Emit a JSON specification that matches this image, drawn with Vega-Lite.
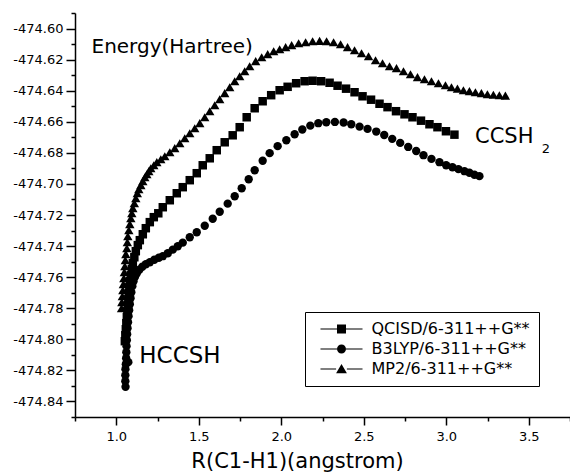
{
  "$schema": "https://vega.github.io/schema/vega-lite/v6.json",
  "width": 495,
  "height": 404,
  "autosize": {"type": "none"},
  "padding": {"left": 75, "top": 13, "right": 0, "bottom": 55},
  "background": "white",
  "config": {"view": {"stroke": null}, "font": "DejaVu Sans"},
  "encoding": {
    "x": {
      "field": "x", "type": "quantitative",
      "scale": {"domain": [0.75, 3.75], "nice": false, "zero": false},
      "axis": {
        "title": "R(C1-H1)(angstrom)",
        "values": [0.75, 1, 1.25, 1.5, 1.75, 2, 2.25, 2.5, 2.75, 3, 3.25, 3.5, 3.75],
        "labelExpr": "round(datum.value*4) % 2 == 0 ? format(datum.value, '.1f') : ''",
        "tickSize": {"condition": {"test": "round(datum.value*4) % 2 == 0", "value": 8}, "value": 4},
        "grid": false,
        "domainColor": "black", "domainWidth": 1.5,
        "tickColor": "black", "tickWidth": 1.5,
        "labelColor": "black", "labelFont": "DejaVu Sans", "labelFontSize": 13,
        "labelPadding": 5, "labelOverlap": false, "labelFlush": false,
        "titleFont": "DejaVu Sans", "titleFontSize": 21, "titleFontWeight": "normal", "titleColor": "black",
        "titleX": 222, "titleY": 50, "titleAlign": "center", "titleBaseline": "alphabetic"
      }
    },
    "y": {
      "field": "y", "type": "quantitative",
      "scale": {"domain": [-474.85, -474.59], "nice": false, "zero": false},
      "axis": {
        "title": "Energy(Hartree)",
        "values": [-474.85, -474.84, -474.83, -474.82, -474.81, -474.8, -474.79, -474.78, -474.77, -474.76, -474.75, -474.74, -474.73, -474.72, -474.71, -474.7, -474.69, -474.68, -474.67, -474.66, -474.65, -474.64, -474.63, -474.62, -474.61, -474.6, -474.59],
        "labelExpr": "round(datum.value*100) % 2 == 0 ? '-' + format(abs(datum.value), '.2f') : ''",
        "tickSize": {"condition": {"test": "round(datum.value*100) % 2 == 0", "value": 9}, "value": 4},
        "grid": false,
        "domainColor": "black", "domainWidth": 1.5,
        "tickColor": "black", "tickWidth": 1.5,
        "labelColor": "black", "labelFont": "DejaVu Sans", "labelFontSize": 13,
        "labelPadding": 3, "labelOverlap": false, "labelFlush": false,
        "titleFont": "DejaVu Sans", "titleFontSize": 20, "titleFontWeight": "normal", "titleColor": "black",
        "titleAngle": 0, "titleX": 16, "titleY": 39, "titleAlign": "left", "titleBaseline": "alphabetic"
      }
    }
  },
  "layer": [
    {
      "data": {"values": [
        {"s": "MP2/6-311++G**", "x": 1.0321, "y": -474.7800},
        {"s": "MP2/6-311++G**", "x": 1.0339, "y": -474.7761},
        {"s": "MP2/6-311++G**", "x": 1.0369, "y": -474.7723},
        {"s": "MP2/6-311++G**", "x": 1.0400, "y": -474.7684},
        {"s": "MP2/6-311++G**", "x": 1.0430, "y": -474.7645},
        {"s": "MP2/6-311++G**", "x": 1.0460, "y": -474.7607},
        {"s": "MP2/6-311++G**", "x": 1.0490, "y": -474.7568},
        {"s": "MP2/6-311++G**", "x": 1.0521, "y": -474.7530},
        {"s": "MP2/6-311++G**", "x": 1.0551, "y": -474.7491},
        {"s": "MP2/6-311++G**", "x": 1.0581, "y": -474.7452},
        {"s": "MP2/6-311++G**", "x": 1.0642, "y": -474.7414},
        {"s": "MP2/6-311++G**", "x": 1.0672, "y": -474.7375},
        {"s": "MP2/6-311++G**", "x": 1.0702, "y": -474.7337},
        {"s": "MP2/6-311++G**", "x": 1.0763, "y": -474.7298},
        {"s": "MP2/6-311++G**", "x": 1.0823, "y": -474.7259},
        {"s": "MP2/6-311++G**", "x": 1.0884, "y": -474.7221},
        {"s": "MP2/6-311++G**", "x": 1.0944, "y": -474.7189},
        {"s": "MP2/6-311++G**", "x": 1.1005, "y": -474.7156},
        {"s": "MP2/6-311++G**", "x": 1.1096, "y": -474.7124},
        {"s": "MP2/6-311++G**", "x": 1.1186, "y": -474.7092},
        {"s": "MP2/6-311++G**", "x": 1.1277, "y": -474.7060},
        {"s": "MP2/6-311++G**", "x": 1.1368, "y": -474.7034},
        {"s": "MP2/6-311++G**", "x": 1.1489, "y": -474.7008},
        {"s": "MP2/6-311++G**", "x": 1.1610, "y": -474.6983},
        {"s": "MP2/6-311++G**", "x": 1.1731, "y": -474.6957},
        {"s": "MP2/6-311++G**", "x": 1.1852, "y": -474.6938},
        {"s": "MP2/6-311++G**", "x": 1.1973, "y": -474.6918},
        {"s": "MP2/6-311++G**", "x": 1.2094, "y": -474.6899},
        {"s": "MP2/6-311++G**", "x": 1.2276, "y": -474.6880},
        {"s": "MP2/6-311++G**", "x": 1.2458, "y": -474.6860},
        {"s": "MP2/6-311++G**", "x": 1.2700, "y": -474.6841},
        {"s": "MP2/6-311++G**", "x": 1.2942, "y": -474.6822},
        {"s": "MP2/6-311++G**", "x": 1.3245, "y": -474.6796},
        {"s": "MP2/6-311++G**", "x": 1.3547, "y": -474.6770},
        {"s": "MP2/6-311++G**", "x": 1.3850, "y": -474.6738},
        {"s": "MP2/6-311++G**", "x": 1.4153, "y": -474.6706},
        {"s": "MP2/6-311++G**", "x": 1.4455, "y": -474.6674},
        {"s": "MP2/6-311++G**", "x": 1.4758, "y": -474.6642},
        {"s": "MP2/6-311++G**", "x": 1.5061, "y": -474.6609},
        {"s": "MP2/6-311++G**", "x": 1.5363, "y": -474.6571},
        {"s": "MP2/6-311++G**", "x": 1.5666, "y": -474.6532},
        {"s": "MP2/6-311++G**", "x": 1.5969, "y": -474.6494},
        {"s": "MP2/6-311++G**", "x": 1.6271, "y": -474.6455},
        {"s": "MP2/6-311++G**", "x": 1.6574, "y": -474.6416},
        {"s": "MP2/6-311++G**", "x": 1.6877, "y": -474.6378},
        {"s": "MP2/6-311++G**", "x": 1.7179, "y": -474.6339},
        {"s": "MP2/6-311++G**", "x": 1.7482, "y": -474.6307},
        {"s": "MP2/6-311++G**", "x": 1.7785, "y": -474.6275},
        {"s": "MP2/6-311++G**", "x": 1.8087, "y": -474.6243},
        {"s": "MP2/6-311++G**", "x": 1.8450, "y": -474.6210},
        {"s": "MP2/6-311++G**", "x": 1.8814, "y": -474.6185},
        {"s": "MP2/6-311++G**", "x": 1.9177, "y": -474.6165},
        {"s": "MP2/6-311++G**", "x": 1.9540, "y": -474.6146},
        {"s": "MP2/6-311++G**", "x": 1.9903, "y": -474.6133},
        {"s": "MP2/6-311++G**", "x": 2.0266, "y": -474.6120},
        {"s": "MP2/6-311++G**", "x": 2.0630, "y": -474.6107},
        {"s": "MP2/6-311++G**", "x": 2.1053, "y": -474.6095},
        {"s": "MP2/6-311++G**", "x": 2.1477, "y": -474.6088},
        {"s": "MP2/6-311++G**", "x": 2.1901, "y": -474.6082},
        {"s": "MP2/6-311++G**", "x": 2.2324, "y": -474.6079},
        {"s": "MP2/6-311++G**", "x": 2.2748, "y": -474.6082},
        {"s": "MP2/6-311++G**", "x": 2.3172, "y": -474.6088},
        {"s": "MP2/6-311++G**", "x": 2.3596, "y": -474.6101},
        {"s": "MP2/6-311++G**", "x": 2.4019, "y": -474.6120},
        {"s": "MP2/6-311++G**", "x": 2.4443, "y": -474.6140},
        {"s": "MP2/6-311++G**", "x": 2.4867, "y": -474.6159},
        {"s": "MP2/6-311++G**", "x": 2.5291, "y": -474.6178},
        {"s": "MP2/6-311++G**", "x": 2.5714, "y": -474.6204},
        {"s": "MP2/6-311++G**", "x": 2.6138, "y": -474.6223},
        {"s": "MP2/6-311++G**", "x": 2.6562, "y": -474.6243},
        {"s": "MP2/6-311++G**", "x": 2.6985, "y": -474.6255},
        {"s": "MP2/6-311++G**", "x": 2.7409, "y": -474.6275},
        {"s": "MP2/6-311++G**", "x": 2.7833, "y": -474.6294},
        {"s": "MP2/6-311++G**", "x": 2.8257, "y": -474.6313},
        {"s": "MP2/6-311++G**", "x": 2.8680, "y": -474.6326},
        {"s": "MP2/6-311++G**", "x": 2.9104, "y": -474.6339},
        {"s": "MP2/6-311++G**", "x": 2.9528, "y": -474.6352},
        {"s": "MP2/6-311++G**", "x": 2.9952, "y": -474.6365},
        {"s": "MP2/6-311++G**", "x": 3.0315, "y": -474.6378},
        {"s": "MP2/6-311++G**", "x": 3.0678, "y": -474.6387},
        {"s": "MP2/6-311++G**", "x": 3.1041, "y": -474.6397},
        {"s": "MP2/6-311++G**", "x": 3.1404, "y": -474.6403},
        {"s": "MP2/6-311++G**", "x": 3.1768, "y": -474.6410},
        {"s": "MP2/6-311++G**", "x": 3.2131, "y": -474.6416},
        {"s": "MP2/6-311++G**", "x": 3.2494, "y": -474.6423},
        {"s": "MP2/6-311++G**", "x": 3.2857, "y": -474.6426},
        {"s": "MP2/6-311++G**", "x": 3.3220, "y": -474.6429},
        {"s": "MP2/6-311++G**", "x": 3.3584, "y": -474.6432},
        {"s": "QCISD/6-311++G**", "x": 1.0521, "y": -474.8012},
        {"s": "QCISD/6-311++G**", "x": 1.0551, "y": -474.7974},
        {"s": "QCISD/6-311++G**", "x": 1.0581, "y": -474.7935},
        {"s": "QCISD/6-311++G**", "x": 1.0611, "y": -474.7896},
        {"s": "QCISD/6-311++G**", "x": 1.0642, "y": -474.7858},
        {"s": "QCISD/6-311++G**", "x": 1.0672, "y": -474.7819},
        {"s": "QCISD/6-311++G**", "x": 1.0702, "y": -474.7781},
        {"s": "QCISD/6-311++G**", "x": 1.0732, "y": -474.7742},
        {"s": "QCISD/6-311++G**", "x": 1.0763, "y": -474.7703},
        {"s": "QCISD/6-311++G**", "x": 1.0793, "y": -474.7665},
        {"s": "QCISD/6-311++G**", "x": 1.0823, "y": -474.7626},
        {"s": "QCISD/6-311++G**", "x": 1.0884, "y": -474.7588},
        {"s": "QCISD/6-311++G**", "x": 1.0944, "y": -474.7549},
        {"s": "QCISD/6-311++G**", "x": 1.1005, "y": -474.7510},
        {"s": "QCISD/6-311++G**", "x": 1.1096, "y": -474.7472},
        {"s": "QCISD/6-311++G**", "x": 1.1186, "y": -474.7433},
        {"s": "QCISD/6-311++G**", "x": 1.1308, "y": -474.7394},
        {"s": "QCISD/6-311++G**", "x": 1.1429, "y": -474.7362},
        {"s": "QCISD/6-311++G**", "x": 1.1610, "y": -474.7324},
        {"s": "QCISD/6-311++G**", "x": 1.1792, "y": -474.7285},
        {"s": "QCISD/6-311++G**", "x": 1.2034, "y": -474.7246},
        {"s": "QCISD/6-311++G**", "x": 1.2276, "y": -474.7214},
        {"s": "QCISD/6-311++G**", "x": 1.2548, "y": -474.7189},
        {"s": "QCISD/6-311++G**", "x": 1.2821, "y": -474.7150},
        {"s": "QCISD/6-311++G**", "x": 1.3245, "y": -474.7105},
        {"s": "QCISD/6-311++G**", "x": 1.3668, "y": -474.7060},
        {"s": "QCISD/6-311++G**", "x": 1.4031, "y": -474.7021},
        {"s": "QCISD/6-311++G**", "x": 1.4455, "y": -474.6976},
        {"s": "QCISD/6-311++G**", "x": 1.4879, "y": -474.6931},
        {"s": "QCISD/6-311++G**", "x": 1.5242, "y": -474.6880},
        {"s": "QCISD/6-311++G**", "x": 1.5666, "y": -474.6835},
        {"s": "QCISD/6-311++G**", "x": 1.6090, "y": -474.6783},
        {"s": "QCISD/6-311++G**", "x": 1.6574, "y": -474.6732},
        {"s": "QCISD/6-311++G**", "x": 1.7058, "y": -474.6687},
        {"s": "QCISD/6-311++G**", "x": 1.7482, "y": -474.6635},
        {"s": "QCISD/6-311++G**", "x": 1.7906, "y": -474.6571},
        {"s": "QCISD/6-311++G**", "x": 1.8390, "y": -474.6513},
        {"s": "QCISD/6-311++G**", "x": 1.8874, "y": -474.6468},
        {"s": "QCISD/6-311++G**", "x": 1.9389, "y": -474.6429},
        {"s": "QCISD/6-311++G**", "x": 1.9903, "y": -474.6397},
        {"s": "QCISD/6-311++G**", "x": 2.0387, "y": -474.6375},
        {"s": "QCISD/6-311++G**", "x": 2.0902, "y": -474.6352},
        {"s": "QCISD/6-311++G**", "x": 2.1416, "y": -474.6339},
        {"s": "QCISD/6-311++G**", "x": 2.1901, "y": -474.6336},
        {"s": "QCISD/6-311++G**", "x": 2.2415, "y": -474.6339},
        {"s": "QCISD/6-311++G**", "x": 2.2930, "y": -474.6349},
        {"s": "QCISD/6-311++G**", "x": 2.3414, "y": -474.6368},
        {"s": "QCISD/6-311++G**", "x": 2.3928, "y": -474.6387},
        {"s": "QCISD/6-311++G**", "x": 2.4443, "y": -474.6410},
        {"s": "QCISD/6-311++G**", "x": 2.4927, "y": -474.6436},
        {"s": "QCISD/6-311++G**", "x": 2.5442, "y": -474.6458},
        {"s": "QCISD/6-311++G**", "x": 2.5956, "y": -474.6484},
        {"s": "QCISD/6-311++G**", "x": 2.6441, "y": -474.6506},
        {"s": "QCISD/6-311++G**", "x": 2.6955, "y": -474.6532},
        {"s": "QCISD/6-311++G**", "x": 2.7470, "y": -474.6552},
        {"s": "QCISD/6-311++G**", "x": 2.7954, "y": -474.6571},
        {"s": "QCISD/6-311++G**", "x": 2.8469, "y": -474.6593},
        {"s": "QCISD/6-311++G**", "x": 2.8983, "y": -474.6616},
        {"s": "QCISD/6-311++G**", "x": 2.9467, "y": -474.6635},
        {"s": "QCISD/6-311++G**", "x": 2.9982, "y": -474.6661},
        {"s": "QCISD/6-311++G**", "x": 3.0496, "y": -474.6683},
        {"s": "B3LYP/6-311++G**", "x": 1.0563, "y": -474.8306},
        {"s": "B3LYP/6-311++G**", "x": 1.0551, "y": -474.8270},
        {"s": "B3LYP/6-311++G**", "x": 1.0551, "y": -474.8231},
        {"s": "B3LYP/6-311++G**", "x": 1.0557, "y": -474.8192},
        {"s": "B3LYP/6-311++G**", "x": 1.0581, "y": -474.8160},
        {"s": "B3LYP/6-311++G**", "x": 1.0732, "y": -474.8147},
        {"s": "B3LYP/6-311++G**", "x": 1.0599, "y": -474.8122},
        {"s": "B3LYP/6-311++G**", "x": 1.0611, "y": -474.8083},
        {"s": "B3LYP/6-311++G**", "x": 1.0623, "y": -474.8044},
        {"s": "B3LYP/6-311++G**", "x": 1.0642, "y": -474.8006},
        {"s": "B3LYP/6-311++G**", "x": 1.0660, "y": -474.7967},
        {"s": "B3LYP/6-311++G**", "x": 1.0684, "y": -474.7929},
        {"s": "B3LYP/6-311++G**", "x": 1.0714, "y": -474.7890},
        {"s": "B3LYP/6-311++G**", "x": 1.0745, "y": -474.7851},
        {"s": "B3LYP/6-311++G**", "x": 1.0781, "y": -474.7813},
        {"s": "B3LYP/6-311++G**", "x": 1.0823, "y": -474.7774},
        {"s": "B3LYP/6-311++G**", "x": 1.0866, "y": -474.7736},
        {"s": "B3LYP/6-311++G**", "x": 1.0914, "y": -474.7697},
        {"s": "B3LYP/6-311++G**", "x": 1.0975, "y": -474.7658},
        {"s": "B3LYP/6-311++G**", "x": 1.1047, "y": -474.7626},
        {"s": "B3LYP/6-311++G**", "x": 1.1126, "y": -474.7600},
        {"s": "B3LYP/6-311++G**", "x": 1.1247, "y": -474.7575},
        {"s": "B3LYP/6-311++G**", "x": 1.1398, "y": -474.7552},
        {"s": "B3LYP/6-311++G**", "x": 1.1580, "y": -474.7533},
        {"s": "B3LYP/6-311++G**", "x": 1.1792, "y": -474.7517},
        {"s": "B3LYP/6-311++G**", "x": 1.2034, "y": -474.7504},
        {"s": "B3LYP/6-311++G**", "x": 1.2306, "y": -474.7488},
        {"s": "B3LYP/6-311++G**", "x": 1.2579, "y": -474.7475},
        {"s": "B3LYP/6-311++G**", "x": 1.2821, "y": -474.7465},
        {"s": "B3LYP/6-311++G**", "x": 1.3123, "y": -474.7446},
        {"s": "B3LYP/6-311++G**", "x": 1.3426, "y": -474.7423},
        {"s": "B3LYP/6-311++G**", "x": 1.3729, "y": -474.7401},
        {"s": "B3LYP/6-311++G**", "x": 1.4031, "y": -474.7378},
        {"s": "B3LYP/6-311++G**", "x": 1.4455, "y": -474.7343},
        {"s": "B3LYP/6-311++G**", "x": 1.4879, "y": -474.7311},
        {"s": "B3LYP/6-311++G**", "x": 1.5363, "y": -474.7269},
        {"s": "B3LYP/6-311++G**", "x": 1.5847, "y": -474.7224},
        {"s": "B3LYP/6-311++G**", "x": 1.6271, "y": -474.7179},
        {"s": "B3LYP/6-311++G**", "x": 1.6755, "y": -474.7127},
        {"s": "B3LYP/6-311++G**", "x": 1.7179, "y": -474.7079},
        {"s": "B3LYP/6-311++G**", "x": 1.7603, "y": -474.7028},
        {"s": "B3LYP/6-311++G**", "x": 1.8027, "y": -474.6970},
        {"s": "B3LYP/6-311++G**", "x": 1.8390, "y": -474.6912},
        {"s": "B3LYP/6-311++G**", "x": 1.8874, "y": -474.6851},
        {"s": "B3LYP/6-311++G**", "x": 1.9298, "y": -474.6802},
        {"s": "B3LYP/6-311++G**", "x": 1.9782, "y": -474.6757},
        {"s": "B3LYP/6-311++G**", "x": 2.0309, "y": -474.6719},
        {"s": "B3LYP/6-311++G**", "x": 2.0811, "y": -474.6680},
        {"s": "B3LYP/6-311++G**", "x": 2.1277, "y": -474.6650},
        {"s": "B3LYP/6-311++G**", "x": 2.1761, "y": -474.6625},
        {"s": "B3LYP/6-311++G**", "x": 2.2246, "y": -474.6609},
        {"s": "B3LYP/6-311++G**", "x": 2.2730, "y": -474.6603},
        {"s": "B3LYP/6-311++G**", "x": 2.3251, "y": -474.6601},
        {"s": "B3LYP/6-311++G**", "x": 2.3777, "y": -474.6605},
        {"s": "B3LYP/6-311++G**", "x": 2.4243, "y": -474.6616},
        {"s": "B3LYP/6-311++G**", "x": 2.4746, "y": -474.6631},
        {"s": "B3LYP/6-311++G**", "x": 2.5230, "y": -474.6646},
        {"s": "B3LYP/6-311++G**", "x": 2.5757, "y": -474.6663},
        {"s": "B3LYP/6-311++G**", "x": 2.6241, "y": -474.6685},
        {"s": "B3LYP/6-311++G**", "x": 2.6725, "y": -474.6710},
        {"s": "B3LYP/6-311++G**", "x": 2.7209, "y": -474.6736},
        {"s": "B3LYP/6-311++G**", "x": 2.7694, "y": -474.6762},
        {"s": "B3LYP/6-311++G**", "x": 2.8178, "y": -474.6788},
        {"s": "B3LYP/6-311++G**", "x": 2.8620, "y": -474.6815},
        {"s": "B3LYP/6-311++G**", "x": 2.9104, "y": -474.6839},
        {"s": "B3LYP/6-311++G**", "x": 2.9588, "y": -474.6860},
        {"s": "B3LYP/6-311++G**", "x": 2.9994, "y": -474.6880},
        {"s": "B3LYP/6-311++G**", "x": 3.0375, "y": -474.6893},
        {"s": "B3LYP/6-311++G**", "x": 3.0738, "y": -474.6905},
        {"s": "B3LYP/6-311++G**", "x": 3.1102, "y": -474.6918},
        {"s": "B3LYP/6-311++G**", "x": 3.1404, "y": -474.6928},
        {"s": "B3LYP/6-311++G**", "x": 3.1707, "y": -474.6941},
        {"s": "B3LYP/6-311++G**", "x": 3.2010, "y": -474.6950}
      ]},
      "layer": [
        {
          "transform": [{"filter": "datum.s == 'QCISD/6-311++G**'"}],
          "mark": {"type": "point", "filled": true, "opacity": 1, "color": "black", "size": 72},
          "encoding": {"shape": {"field": "s", "type": "nominal", "scale": {"domain": ["QCISD/6-311++G**", "B3LYP/6-311++G**", "MP2/6-311++G**"], "range": ["square", "circle", "triangle-up"]}, "legend": null}}
        },
        {
          "transform": [{"filter": "datum.s == 'B3LYP/6-311++G**'"}],
          "mark": {"type": "point", "filled": true, "opacity": 1, "color": "black", "size": 70},
          "encoding": {"shape": {"field": "s", "type": "nominal", "scale": {"domain": ["QCISD/6-311++G**", "B3LYP/6-311++G**", "MP2/6-311++G**"], "range": ["square", "circle", "triangle-up"]}, "legend": null}}
        },
        {
          "transform": [{"filter": "datum.s == 'MP2/6-311++G**'"}],
          "mark": {"type": "point", "filled": true, "opacity": 1, "color": "black", "size": 88},
          "encoding": {"shape": {"field": "s", "type": "nominal", "scale": {"domain": ["QCISD/6-311++G**", "B3LYP/6-311++G**", "MP2/6-311++G**"], "range": ["square", "circle", "triangle-up"]}, "legend": null}}
        },
        {
          "mark": {"type": "point", "filled": true, "opacity": 0, "color": "black", "size": 81},
          "encoding": {
            "shape": {
              "field": "s", "type": "nominal",
              "scale": {
                "domain": ["QCISD/6-311++G**", "B3LYP/6-311++G**", "MP2/6-311++G**"],
                "range": [
                  "M-4.67,-0.12H-1V0.12H-4.67ZM1,-0.12H4.67V0.12H1ZM-1,-1H1V1H-1Z",
                  "M-4.67,-0.12H-1V0.12H-4.67ZM1,-0.12H4.67V0.12H1ZM1,0A1,1,0,1,1,-1,0A1,1,0,1,1,1,0Z",
                  "M-4.67,-0.12H-1.2V0.12H-4.67ZM1.2,-0.12H4.67V0.12H1.2ZM0,-1.1L1.2,0.95H-1.2Z"
                ]
              },
              "legend": {
                "title": null,
                "orient": "none",
                "legendX": 230,
                "legendY": 299,
                "strokeColor": "black",
                "padding": 9,
                "symbolOffset": 19.5,
                "labelOffset": 22,
                "rowPadding": 4,
                "symbolSize": 81,
                "symbolOpacity": 1,
                "symbolFillColor": "black",
                "symbolStrokeWidth": 0,
                "labelFont": "DejaVu Sans",
                "labelFontSize": 16,
                "labelColor": "black",
                "labelLimit": 400
              }
            }
          }
        }
      ],
      "resolve": {"scale": {"shape": "independent"}}
    },
    {
      "data": {"values": [{"x": 1.1398, "y": -474.8154, "label": "HCCSH"}]},
      "mark": {"type": "text", "font": "DejaVu Sans", "fontSize": 23, "align": "left", "baseline": "alphabetic", "color": "black"},
      "encoding": {"text": {"field": "label", "type": "nominal"}}
    },
    {
      "data": {"values": [{"x": 3.1743, "y": -474.6738, "label": "CCSH"}]},
      "mark": {"type": "text", "font": "DejaVu Sans", "fontSize": 21, "align": "left", "baseline": "alphabetic", "color": "black"},
      "encoding": {"text": {"field": "label", "type": "nominal"}}
    },
    {
      "data": {"values": [{"x": 3.5793, "y": -474.6802, "label": "2"}]},
      "mark": {"type": "text", "font": "DejaVu Sans", "fontSize": 13, "align": "left", "baseline": "alphabetic", "color": "black"},
      "encoding": {"text": {"field": "label", "type": "nominal"}}
    }
  ]
}
